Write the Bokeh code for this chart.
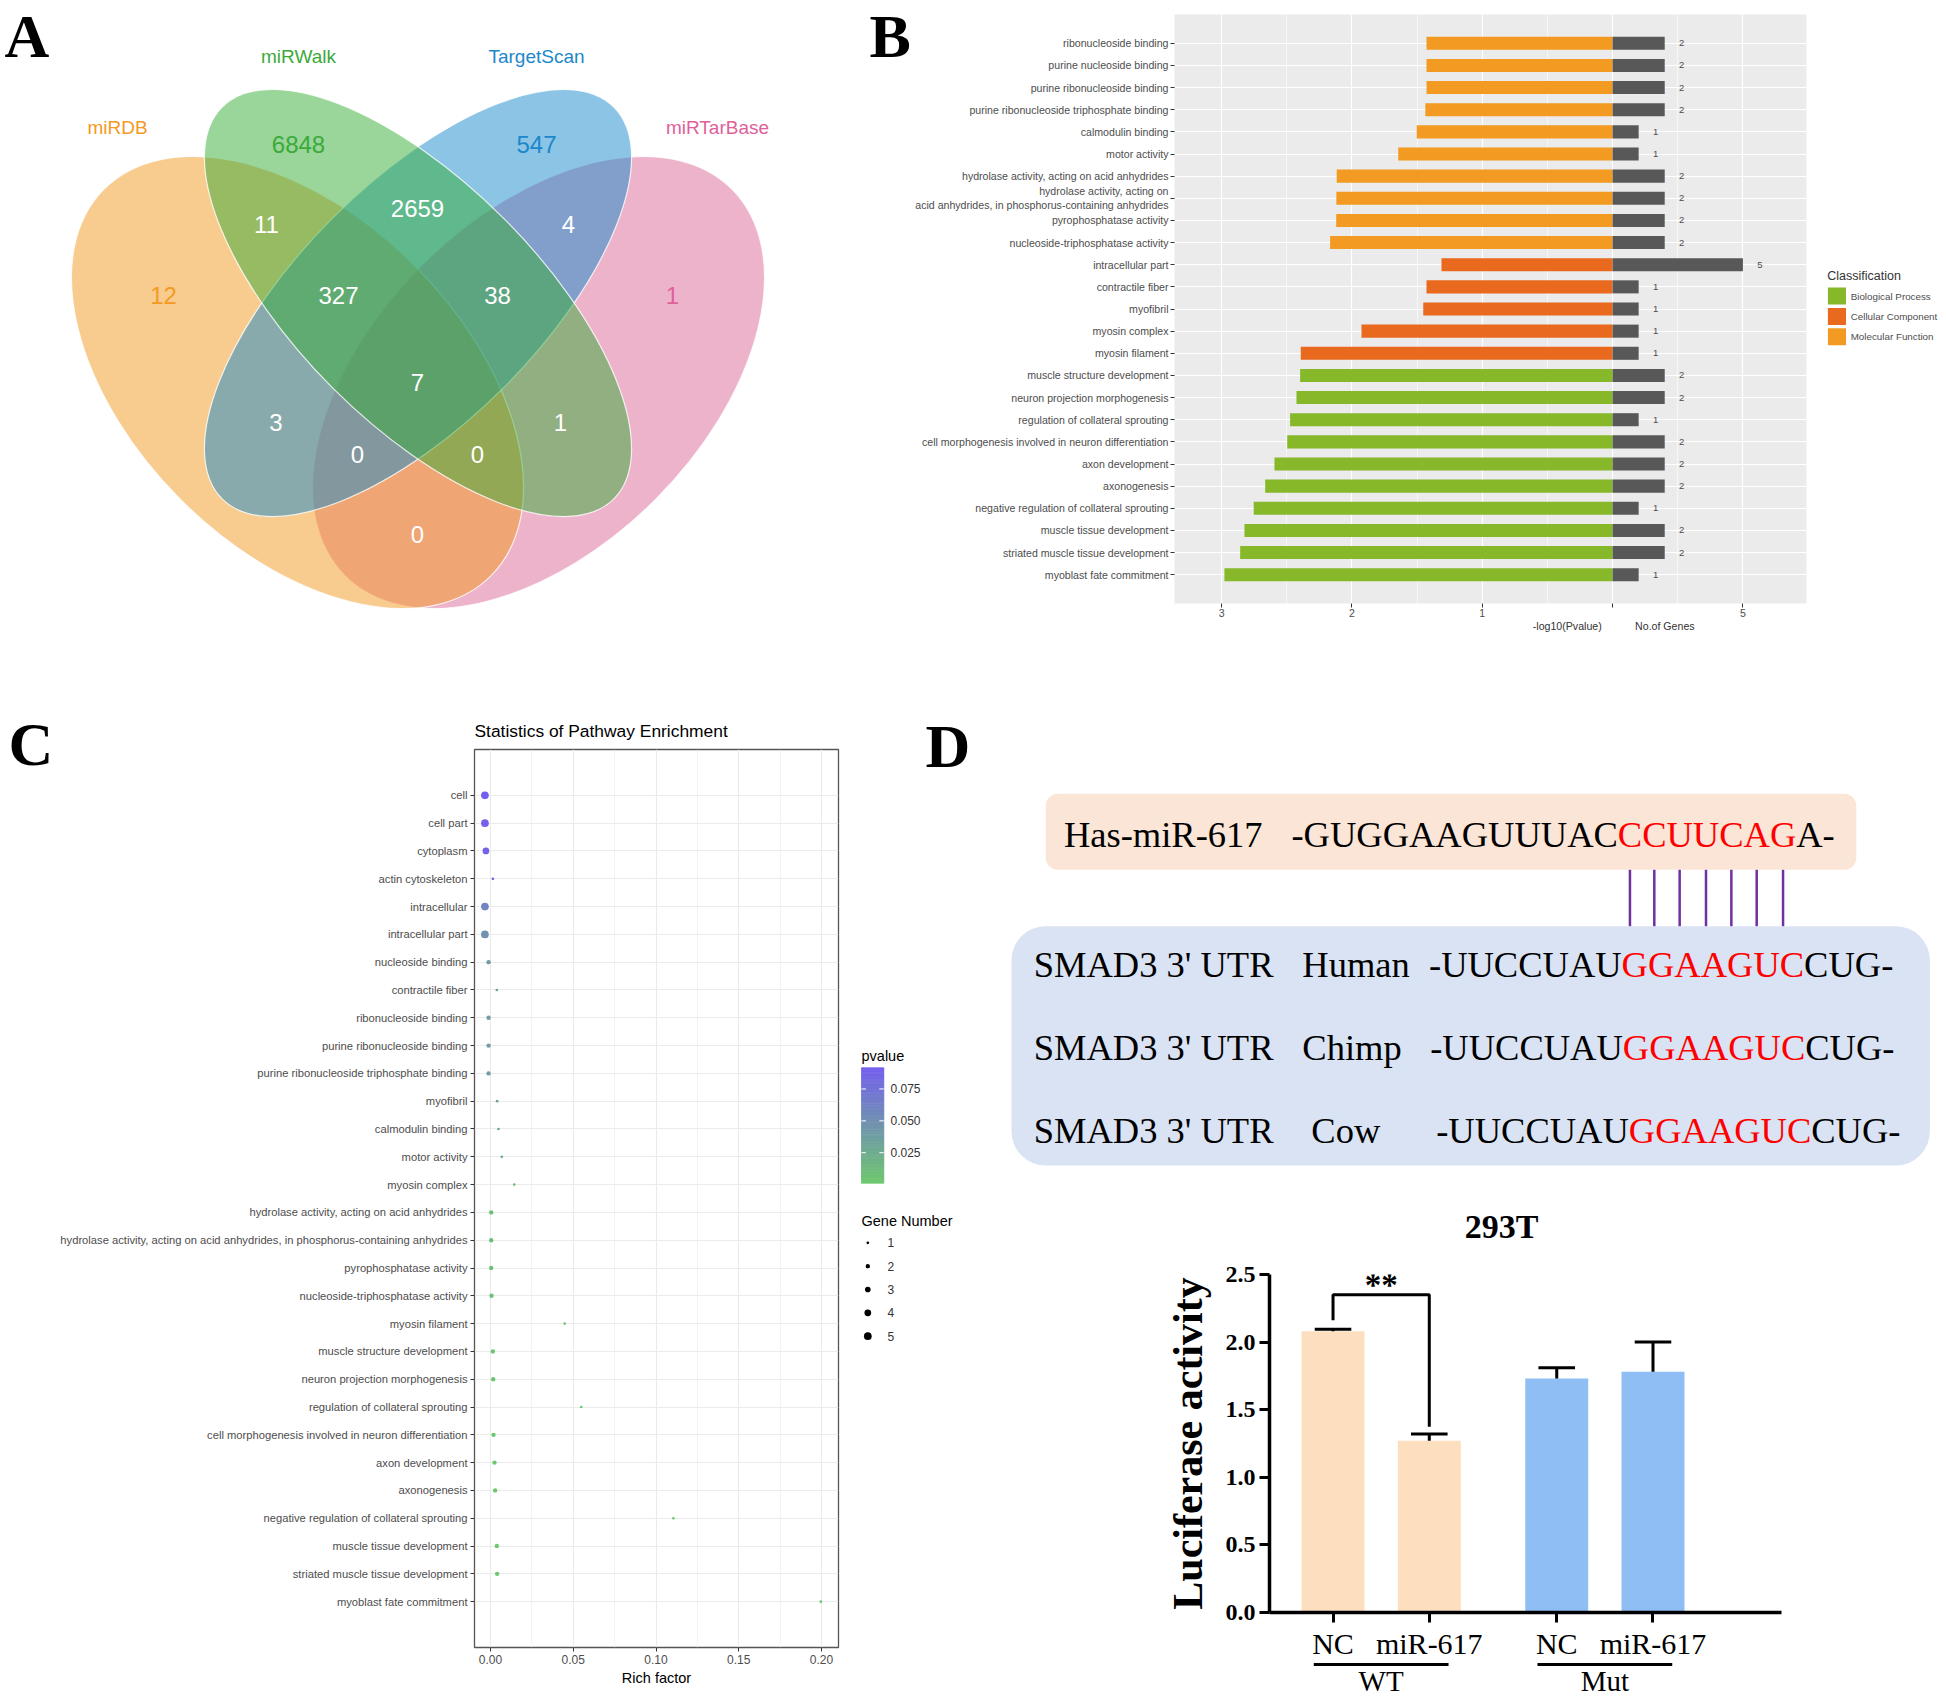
import math
from bokeh.plotting import figure
from bokeh.layouts import row, column
from bokeh.models import (Range1d, FactorRange, FixedTicker, LinearAxis,
                          NumeralTickFormatter, ColumnDataSource, LinearColorMapper)
from bokeh.transform import transform
from bokeh.core.properties import value
from bokeh.embed import file_html
from bokeh.resources import INLINE

SANS = "Liberation Sans"
SERIF = "Liberation Serif"

# ======================= DATA =======================
# ---- A: Venn diagram of predicted targets ----
venn_sets = ["miRDB", "miRWalk", "TargetScan", "miRTarBase"]
venn_label_colors = ["#F39A24", "#3BAA3B", "#1C88CC", "#E0609A"]
venn_fill_colors = ["#F1971D", "#35AB35", "#1789C9", "#DB6797"]
venn_regions = [(0,), (1,), (2,), (3,), (0, 1), (1, 2), (2, 3), (0, 1, 2), (1, 2, 3),
                (0, 1, 2, 3), (0, 2), (1, 3), (0, 2, 3), (0, 1, 3), (0, 3)]
venn_counts = [12, 6848, 547, 1, 11, 2659, 4, 327, 38, 7, 3, 1, 0, 0, 0]

# ---- B: GO enrichment bars ----
go_terms = [
    "ribonucleoside binding",
    "purine nucleoside binding",
    "purine ribonucleoside binding",
    "purine ribonucleoside triphosphate binding",
    "calmodulin binding",
    "motor activity",
    "hydrolase activity, acting on acid anhydrides",
    "hydrolase activity, acting on\nacid anhydrides, in phosphorus-containing anhydrides",
    "pyrophosphatase activity",
    "nucleoside-triphosphatase activity",
    "intracellular part",
    "contractile fiber",
    "myofibril",
    "myosin complex",
    "myosin filament",
    "muscle structure development",
    "neuron projection morphogenesis",
    "regulation of collateral sprouting",
    "cell morphogenesis involved in neuron differentiation",
    "axon development",
    "axonogenesis",
    "negative regulation of collateral sprouting",
    "muscle tissue development",
    "striated muscle tissue development",
    "myoblast fate commitment",
]
go_neglog10p = [1.428, 1.428, 1.428, 1.437, 1.503, 1.645, 2.117, 2.120, 2.121, 2.168,
                1.313, 1.428, 1.453, 1.927, 2.393,
                2.398, 2.426, 2.475, 2.497, 2.595, 2.666, 2.754, 2.825, 2.858, 2.979]
go_genes = [2, 2, 2, 2, 1, 1, 2, 2, 2, 2, 5, 1, 1, 1, 1, 2, 2, 1, 2, 2, 2, 1, 2, 2, 1]
go_class = (["Molecular Function"] * 10 + ["Cellular Component"] * 5 +
            ["Biological Process"] * 10)
class_names = ["Biological Process", "Cellular Component", "Molecular Function"]
class_colors = ["#86B82A", "#E9691F", "#F29A21"]
go_axis_titles = ["-log10(Pvalue)", "No.of Genes"]
legend_title_B = "Classification"

# ---- C: pathway enrichment bubbles ----
path_terms = [
    "cell", "cell part", "cytoplasm", "actin cytoskeleton", "intracellular",
    "intracellular part", "nucleoside binding", "contractile fiber",
    "ribonucleoside binding", "purine ribonucleoside binding",
    "purine ribonucleoside triphosphate binding", "myofibril", "calmodulin binding",
    "motor activity", "myosin complex", "hydrolase activity, acting on acid anhydrides",
    "hydrolase activity, acting on acid anhydrides, in phosphorus-containing anhydrides",
    "pyrophosphatase activity", "nucleoside-triphosphatase activity", "myosin filament",
    "muscle structure development", "neuron projection morphogenesis",
    "regulation of collateral sprouting",
    "cell morphogenesis involved in neuron differentiation", "axon development",
    "axonogenesis", "negative regulation of collateral sprouting",
    "muscle tissue development", "striated muscle tissue development",
    "myoblast fate commitment",
]
path_rich = [-0.0034, -0.0034, -0.0028, 0.0014, -0.0034, -0.0034, -0.0012, 0.0038,
             -0.0012, -0.0012, -0.0012, 0.0040, 0.0048, 0.0068, 0.0143, 0.0004,
             0.0004, 0.0004, 0.0006, 0.0448, 0.0014, 0.0016, 0.0548, 0.0018, 0.0024,
             0.0028, 0.1105, 0.0038, 0.0040, 0.1996]
path_genes = [5, 5, 4, 1, 5, 5, 2, 1, 2, 2, 2, 1, 1, 1, 1, 2, 2, 2, 2, 1, 2, 2, 1, 2,
              2, 2, 1, 2, 2, 1]
path_pvalue = [0.0916, 0.0905, 0.0890, 0.0850, 0.0600, 0.0486, 0.0380, 0.0373, 0.0373,
               0.0373, 0.0366, 0.0352, 0.0314, 0.0226, 0.0118, 0.0076, 0.0076, 0.0076,
               0.0068, 0.0040, 0.0040, 0.0037, 0.0033, 0.0032, 0.0025, 0.0022, 0.0018,
               0.0015, 0.0014, 0.0011]
pvalue_ticks = [0.025, 0.050, 0.075]
gene_levels = [1, 2, 3, 4, 5]
path_title = "Statistics of Pathway Enrichment"

# ---- D: binding site and luciferase assay ----
mir_name = "Has-miR-617"
mir_seq = ["-GUGGAAGUUUAC", "CCUUCAG", "A-"]
utr_label = "SMAD3 3' UTR"
utr_species = ["Human", "Chimp", "Cow"]
utr_seq = [["-UUCCUAU", "GGAAGUC", "CUG-"], ["-UUCCUAU", "GGAAGUC", "CUG-"],
           ["-UUCCUAU", "GGAAGUC", "CUG-"]]
luc_title = "293T"
luc_group = ["WT", "WT", "Mut", "Mut"]
luc_label = ["NC", "miR-617", "NC", "miR-617"]
luc_mean = [2.08, 1.27, 1.73, 1.78]
luc_sem = [0.015, 0.05, 0.08, 0.22]


# ======================= HELPERS =======================
def blank(w, h, x0, y0):
    """Figure whose data units are page pixels (y downwards)."""
    p = figure(width=w, height=h, x_range=Range1d(x0, x0 + w),
               y_range=Range1d(y0 + h, y0), x_axis_type=None, y_axis_type=None,
               toolbar_location=None, output_backend="svg", min_border=0,
               frame_align=False)
    p.outline_line_color = None
    p.background_fill_color = "white"
    p.border_fill_color = "white"
    return p


def lerp_hex(a, b, t):
    ca = [int(a[i:i + 2], 16) for i in (1, 3, 5)]
    cb = [int(b[i:i + 2], 16) for i in (1, 3, 5)]
    return "#%02x%02x%02x" % tuple(round(x + (y - x) * t) for x, y in zip(ca, cb))


def gene_size(n):
    return 2.7 + 5.0 * (math.sqrt(n) - 1) / (math.sqrt(5) - 1)


TIMES_W = {' ': 0.25, '-': 0.333, "'": 0.18, 'A': 0.722, 'C': 0.667, 'G': 0.722,
           'U': 0.722}


def tw(s, fs):
    return sum(TIMES_W[c] for c in s) * fs


def txt(p, x, y, t, size, font=SANS, color="black", align="left", style="normal"):
    p.text(x=[x], y=[y], text=[t], text_font=value(font), text_font_size=value(size),
           text_color=color, text_align=align, text_baseline="middle",
           text_font_style=style)


def letter(p, x, yc, t):
    txt(p, x, yc, t, "62px", font=SERIF, style="bold")


# ======================= PANEL A =======================
pA = blank(911, 690, 0, 0)
ELL = [(297, 382, 547, 331, -math.pi / 4), (417.5, 302.5, 554, 241, -math.pi / 4),
       (417.5, 302.5, 554, 241, math.pi / 4), (538, 382, 547, 331, math.pi / 4)]
for k in [3, 0, 2, 1]:
    cx, cy, w, h, a = ELL[k]
    pA.ellipse(x=[cx], y=[cy], width=[w], height=[h], angle=[a],
               fill_color=venn_fill_colors[k], fill_alpha=0.5,
               line_color="white", line_alpha=0.8, line_width=1.2)
SET_LABEL_POS = [(117, 126.5), (298, 56), (536, 56), (717, 126.5)]
pA.text(x=[q[0] for q in SET_LABEL_POS], y=[q[1] for q in SET_LABEL_POS], text=venn_sets,
        text_color=venn_label_colors, text_font=value(SANS), text_font_size=value("19px"),
        text_align="center", text_baseline="middle")
REGION_POS = [(163, 295), (298, 144), (536, 144), (672, 295), (266, 224), (417, 208),
              (568, 224), (338, 295), (497, 295), (417, 382), (275.5, 422), (560, 422),
              (357, 454), (477, 454), (417, 534)]
cnt_colors = [venn_label_colors[r[0]] if len(r) == 1 else "white" for r in venn_regions]
pA.text(x=[q[0] for q in REGION_POS], y=[q[1] for q in REGION_POS],
        text=[str(c) for c in venn_counts], text_color=cnt_colors,
        text_font=value(SANS), text_font_size=value("24px"),
        text_align="center", text_baseline="middle")
letter(pA, 4, 35, "A")
letter(pA, 869, 35, "B")

# ======================= PANEL B =======================
B_LEFT, B_W, B_H = 911, 904, 690
FB_L, FB_R, FB_T, FB_B = 1174, 1806, 14, 603
GENE_UNIT = 5
xB0, xB1 = -3.362, 1.488
pB = figure(width=B_W, height=B_H, x_range=Range1d(xB0, xB1),
            y_range=FactorRange(factors=list(reversed(go_terms)), range_padding=0.8,
                                range_padding_units="absolute"),
            toolbar_location=None, output_backend="svg", frame_align=False,
            min_border_left=FB_L - B_LEFT, min_border_right=B_LEFT + B_W - FB_R,
            min_border_top=FB_T, min_border_bottom=B_H - FB_B)
pB.background_fill_color = "#EBEBEB"
pB.border_fill_color = "white"
pB.outline_line_color = None
for cname, ccol in zip(class_names, class_colors):
    idx = [i for i, c in enumerate(go_class) if c == cname]
    src = ColumnDataSource(dict(term=[go_terms[i] for i in idx],
                                left=[-go_neglog10p[i] for i in idx]))
    pB.hbar(y="term", left="left", right=0, height=0.59, source=src,
            fill_color=ccol, line_color=None)
srcG = ColumnDataSource(dict(term=go_terms, right=[g / GENE_UNIT for g in go_genes],
                             lab=[str(g) for g in go_genes]))
pB.hbar(y="term", left=0, right="right", height=0.59, source=srcG,
        fill_color="#585858", line_color=None)
pB.text(x="right", y="term", text="lab", source=srcG, x_offset=17, text_align="center",
        text_baseline="middle", text_font=value(SANS), text_font_size=value("9.5px"),
        text_color="#4D4D4D")
pB.xaxis.ticker = FixedTicker(ticks=[-3, -2, -1, 0, 1],
                              minor_ticks=[-2.5, -1.5, -0.5, 0.5, 1.5])
pB.xaxis.major_label_overrides = {-3: "3", -2: "2", -1: "1", 0: "", 1: str(GENE_UNIT)}
for ax in (pB.xaxis[0], pB.yaxis[0]):
    ax.axis_line_color = None
    ax.major_tick_line_color = "#333333"
    ax.major_tick_out = 4
    ax.major_tick_in = 0
    ax.minor_tick_line_color = None
    ax.major_label_text_font = SANS
    ax.major_label_text_font_size = "10.6px"
    ax.major_label_text_color = "#4D4D4D"
    ax.major_label_standoff = 2
pB.xaxis[0].major_label_standoff = 1
TITLE_X = [-0.348, 0.401]
ax2 = LinearAxis(ticker=FixedTicker(ticks=TITLE_X),
                 major_label_overrides=dict(zip(TITLE_X, go_axis_titles)))
ax2.axis_line_color = None
ax2.major_tick_line_color = None
ax2.major_tick_out = 0
ax2.major_tick_in = 0
ax2.minor_tick_line_color = None
ax2.major_label_standoff = 0
ax2.major_label_text_font = SANS
ax2.major_label_text_font_size = "10.6px"
ax2.major_label_text_color = "#333333"
pB.add_layout(ax2, "below")
pB.xgrid.grid_line_color = "white"
pB.xgrid.grid_line_width = 1.2
pB.xgrid.minor_grid_line_color = "white"
pB.xgrid.minor_grid_line_width = 0.6
pB.ygrid.grid_line_color = "white"
pB.ygrid.grid_line_width = 1.2

# ---- B legend ----
pBL = blank(129, 690, 1815, 0)
txt(pBL, 1826.7, 275.5, legend_title_B, "12.5px", color="#333333")
key_y = [295.5, 316.0, 336.3]
pBL.quad(left=1827.4, right=1845.5, top=[y - 8.5 for y in key_y],
         bottom=[y + 8.5 for y in key_y], fill_color=class_colors, line_color=None)
pBL.text(x=1850.2, y=key_y, text=class_names, text_font=value(SANS),
         text_font_size=value("9.8px"), text_color="#4D4D4D", text_baseline="middle")

# ======================= PANEL C =======================
C_X0 = 55
pCleft = blank(C_X0, 1007, 0, 690)
letter(pCleft, 8, 743, "C")
pCtop = blank(850 - C_X0, 58, C_X0, 690)
txt(pCtop, 474, 730.7, path_title, "17.4px")

C_TOP, C_W, C_H = 748, 850 - C_X0, 949
FC_L, FC_R, FC_T, FC_B = 474, 838, 749, 1647
pC = figure(width=C_W, height=C_H, x_range=Range1d(-0.0097, 0.2103),
            y_range=FactorRange(factors=list(reversed(path_terms)), range_padding=1.15,
                                range_padding_units="absolute"),
            toolbar_location=None, output_backend="svg", frame_align=False,
            min_border_left=FC_L - C_X0, min_border_right=C_X0 + C_W - FC_R,
            min_border_top=FC_T - C_TOP, min_border_bottom=C_TOP + C_H - FC_B)
pC.background_fill_color = "white"
pC.border_fill_color = "white"
pC.outline_line_color = "#555555"
pC.outline_line_width = 1.3
LOW_COL, HIGH_COL = "#6DC86D", "#7460EE"
palette = [lerp_hex(LOW_COL, HIGH_COL, i / 255) for i in range(256)]
pmin, pmax = min(path_pvalue), max(path_pvalue)
mapper = LinearColorMapper(palette=palette, low=pmin, high=pmax)
srcC = ColumnDataSource(dict(term=path_terms, rich=path_rich, p=path_pvalue,
                             size=[gene_size(g) for g in path_genes]))
pC.scatter(x="rich", y="term", size="size", source=srcC,
           fill_color=transform("p", mapper), line_color=None)
pC.xaxis.ticker = FixedTicker(ticks=[0, 0.05, 0.10, 0.15, 0.20],
                              minor_ticks=[0.025, 0.075, 0.125, 0.175])
pC.xaxis.formatter = NumeralTickFormatter(format="0.00")
for ax in (pC.xaxis[0], pC.yaxis[0]):
    ax.axis_line_color = None
    ax.major_tick_line_color = "#333333"
    ax.major_tick_out = 4
    ax.major_tick_in = 0
    ax.minor_tick_line_color = None
    ax.major_label_text_font = SANS
    ax.major_label_text_font_size = "12px"
    ax.major_label_text_color = "#4D4D4D"
    ax.major_label_standoff = 3
pC.yaxis[0].major_label_text_font_size = "11.2px"
pC.xaxis.axis_label = "Rich factor"
pC.xaxis.axis_label_text_font = SANS
pC.xaxis.axis_label_text_font_style = "normal"
pC.xaxis.axis_label_text_font_size = "14.5px"
pC.xaxis.axis_label_text_color = "black"
pC.xaxis.axis_label_standoff = 3
pC.xgrid.grid_line_color = "#EBEBEB"
pC.xgrid.grid_line_width = 1.1
pC.xgrid.minor_grid_line_color = "#EBEBEB"
pC.xgrid.minor_grid_line_width = 0.6
pC.ygrid.grid_line_color = "#EBEBEB"
pC.ygrid.grid_line_width = 1.1

# ---- C legends (colour bar + size key) and the D letter ----
pL = blank(140, 1007, 850, 690)
CB_X0, CB_X1, CB_TOP, CB_BOT = 861, 883.3, 1067.3, 1182.7


def cb_y(v):
    return CB_BOT - (v - pmin) / (pmax - pmin) * (CB_BOT - CB_TOP)


NSL = 80
vals = [pmin + (pmax - pmin) * i / NSL for i in range(NSL + 1)]
sl_cols = [palette[int(255 * (i + 0.5) / NSL)] for i in range(NSL)]
pL.quad(left=CB_X0, right=CB_X1, bottom=[cb_y(vals[i]) for i in range(NSL)],
        top=[cb_y(vals[i + 1]) for i in range(NSL)], fill_color=sl_cols,
        line_color=sl_cols, line_width=0.8)
tick_y = [cb_y(v) for v in pvalue_ticks]
pL.segment(x0=CB_X0, x1=CB_X0 + 4.5, y0=tick_y, y1=tick_y, line_color="white",
           line_width=1)
pL.segment(x0=CB_X1 - 4.5, x1=CB_X1, y0=tick_y, y1=tick_y, line_color="white",
           line_width=1)
pL.text(x=890, y=tick_y, text=["%.3f" % v for v in pvalue_ticks], text_font=value(SANS),
        text_font_size=value("12px"), text_color="#333333", text_baseline="middle")
pL.text(x=[861, 861], y=[1055, 1220], text=["pvalue", "Gene Number"],
        text_font=value(SANS), text_font_size=value("14.5px"), text_color="black",
        text_baseline="middle")
gy = [1242.3 + 23.35 * i for i in range(len(gene_levels))]
pL.scatter(x=867.3, y=gy, size=[gene_size(g) for g in gene_levels], fill_color="black",
           line_color=None)
pL.text(x=887, y=gy, text=[str(g) for g in gene_levels], text_font=value(SANS),
        text_font_size=value("12px"), text_color="#333333", text_baseline="middle")
letter(pL, 925, 745, "D")

# ======================= PANEL D: sequences =======================
pS = blank(954, 560, 990, 690)
pS.quad(left=1045.3, right=1855.8, top=793.3, bottom=869.3, border_radius=12,
        fill_color="#FBE5D6", line_color=None)
pS.quad(left=1011, right=1929.4, top=925.7, bottom=1165, border_radius=34,
        fill_color="#DAE3F3", line_color=None)
FS = 36.5
FS_TXT = "%.1fpx" % FS
SEQ_COLORS = ["black", "#FF0000", "black"]


def seq_row(x0, parts, yc):
    xs, x = [], x0
    for s in parts:
        xs.append(x)
        x += tw(s, FS)
    pS.text(x=xs, y=[yc] * len(parts), text=parts, text_color=SEQ_COLORS,
            text_font=value(SERIF), text_font_size=value(FS_TXT),
            text_align="left", text_baseline="middle")
    return xs


MIR_Y = 833.5
txt(pS, 1063.4, MIR_Y, mir_name, FS_TXT, font=SERIF)
mx = seq_row(1290.9, mir_seq, MIR_Y)
centres, acc = [], mx[1]
for ch in mir_seq[1]:
    centres.append(acc + TIMES_W[ch] * FS / 2)
    acc += TIMES_W[ch] * FS
pS.segment(x0=centres, x1=centres, y0=869.3, y1=925.7, line_color="#7030A0",
           line_width=2.5)
ROW_Y = [963.5, 1046.5, 1129.5]
SPECIES_X = [1301.8, 1301.8, 1310.8]
SEQ_X = [1428.5, 1429.7, 1435.7]
for i, sp in enumerate(utr_species):
    txt(pS, 1033.2, ROW_Y[i], utr_label, FS_TXT, font=SERIF)
    txt(pS, SPECIES_X[i], ROW_Y[i], sp, FS_TXT, font=SERIF)
    seq_row(SEQ_X[i], utr_seq[i], ROW_Y[i])
txt(pS, 1501, 1226, luc_title, "34px", font=SERIF, align="center", style="bold")

# ======================= PANEL D: luciferase bars =======================
D_LEFT, D_TOP, D_W, D_H = 990, 1250, 954, 412
FD_L, FD_R, FD_T, FD_B = 1269, 1781, 1274, 1613
GROUP_GAP = 0.324
BAR_W = 0.654
groups = list(dict.fromkeys(luc_group))
xpos = [round(i + groups.index(g) * GROUP_GAP, 3) for i, g in enumerate(luc_group)]
XD0, XD1 = -0.66, 4.659
pD = figure(width=D_W, height=D_H, x_range=Range1d(XD0, XD1), y_range=Range1d(0, 2.5),
            toolbar_location=None, output_backend="svg", frame_align=False,
            min_border_left=FD_L - D_LEFT, min_border_right=D_LEFT + D_W - FD_R,
            min_border_top=FD_T - D_TOP, min_border_bottom=D_TOP + D_H - FD_B)
pD.grid.visible = False
pD.outline_line_color = None
pD.background_fill_color = "white"
pD.border_fill_color = "white"
bar_cols = ["#FDDFC0" if g == "WT" else "#8FBEF5" for g in luc_group]
pD.vbar(x=xpos, top=luc_mean, width=BAR_W, fill_color=bar_cols, line_color=None)
tops = [m + s for m, s in zip(luc_mean, luc_sem)]
pD.segment(x0=xpos, x1=xpos, y0=luc_mean, y1=tops, line_color="black", line_width=3)
pD.segment(x0=[x - 0.19 for x in xpos], x1=[x + 0.19 for x in xpos], y0=tops, y1=tops,
           line_color="black", line_width=3)
br_top = max(tops[0], tops[1]) + 0.256
pD.line(x=[xpos[0], xpos[0], xpos[1], xpos[1]],
        y=[tops[0] + 0.066, br_top, br_top, tops[1] + 0.054],
        line_color="black", line_width=3)
pD.text(x=[(xpos[0] + xpos[1]) / 2], y=[br_top + 0.07], text=["**"],
        text_align="center", text_baseline="middle", text_font=value(SERIF),
        text_font_style="bold", text_font_size=value("33px"), text_color="black")
ya = pD.yaxis[0]
ya.ticker = FixedTicker(ticks=[0, 0.5, 1.0, 1.5, 2.0, 2.5])
ya.formatter = NumeralTickFormatter(format="0.0")
ya.axis_label = "Luciferase activity"
ya.axis_label_text_font = SERIF
ya.axis_label_text_font_style = "bold"
ya.axis_label_text_font_size = "42px"
ya.axis_label_text_color = "black"
ya.axis_label_standoff = 12
xa = pD.xaxis[0]
xa.ticker = FixedTicker(ticks=xpos)
xa.major_label_overrides = {x: l for x, l in zip(xpos, luc_label)}
for ax in (xa, ya):
    ax.axis_line_color = "black"
    ax.axis_line_width = 3.5
    ax.major_tick_line_color = "black"
    ax.major_tick_line_width = 3
    ax.major_tick_out = 10
    ax.major_tick_in = 0
    ax.minor_tick_line_color = None
    ax.major_label_text_font = SERIF
    ax.major_label_text_color = "black"
ya.major_label_text_font_style = "bold"
ya.major_label_text_font_size = "24px"
ya.major_label_standoff = 4
xa.major_label_text_font_size = "30px"
xa.major_label_standoff = 4

# ---- group labels under the x axis ----
pDb = blank(954, 35, 990, 1662)
PX_PER_UNIT = (FD_R - FD_L) / (XD1 - XD0)
for g in groups:
    gx = [x for x, gg in zip(xpos, luc_group) if gg == g]
    c = sum(gx) / len(gx)
    cx = FD_L + (c - XD0) * PX_PER_UNIT
    half = 0.7 * PX_PER_UNIT
    pDb.segment(x0=[cx - half], x1=[cx + half], y0=[1664], y1=[1664],
                line_color="black", line_width=3)
    txt(pDb, cx, 1680.5, g, "29px", font=SERIF, align="center")

# ======================= LAYOUT =======================
layout = column(row(pA, pB, pBL),
                row(pCleft, column(pCtop, pC), pL, column(pS, pD, pDb)))
open("out.html", "w").write(file_html(layout, INLINE))
